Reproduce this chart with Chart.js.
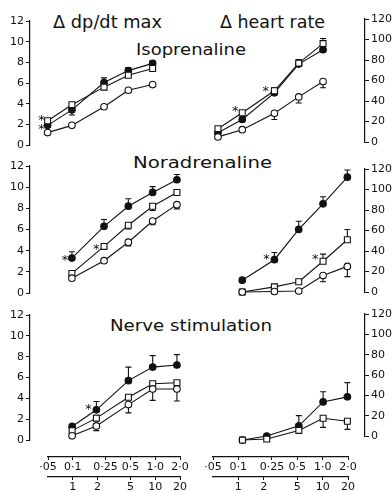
<!DOCTYPE html>
<html>
<head>
<meta charset="utf-8">
<script src="https://cdn.jsdelivr.net/npm/chart.js@4.4.0/dist/chart.umd.min.js"></script>
<style>
  body { margin: 0; background: #fff; }
  #fig { position: relative; width: 392px; height: 492px; overflow: hidden; font-family: "DejaVu Sans", sans-serif; color: #111; }
  canvas { position: absolute; }
  .ttl { position: absolute; white-space: nowrap; line-height: 1; transform-origin: 0 0; }
</style>
</head>
<body>
<div id="fig">
  <div class="ttl" data-w="109" style="left:53px;top:13px;font-size:18px">Δ dp/dt max</div>
  <div class="ttl" data-w="105" style="left:220px;top:13px;font-size:18px">Δ heart rate</div>
  <div class="ttl" data-w="110" style="left:136px;top:42px;font-size:16px">Isoprenaline</div>
  <div class="ttl" data-w="139" style="left:133px;top:155px;font-size:16px">Noradrenaline</div>
  <div class="ttl" data-w="162" style="left:110px;top:318px;font-size:16px">Nerve stimulation</div>

  <canvas id="isoL" style="left:0;top:11px" width="192" height="144"></canvas>
  <canvas id="isoR" style="left:195px;top:9px" width="197" height="143"></canvas>
  <canvas id="norL" style="left:0;top:156px" width="192" height="147"></canvas>
  <canvas id="norR" style="left:195px;top:159px" width="197" height="143"></canvas>
  <canvas id="nerL" style="left:0;top:305px" width="192" height="145"></canvas>
  <canvas id="nerR" style="left:195px;top:304px" width="197" height="142"></canvas>
  <canvas id="axL" style="left:30px;top:450px" width="170" height="45"></canvas>
  <canvas id="axR" style="left:195px;top:450px" width="175" height="45"></canvas>
</div>
<script>
// doses (ug) and stimulation frequencies (Hz)
const doseIso = [0.05, 0.1, 0.25, 0.5, 1.0];
const doseNor = [0.1, 0.25, 0.5, 1.0, 2.0];
const freqHz = [1, 2, 5, 10, 20];

const doseTicks = [0.05, 0.1, 0.25, 0.5, 1, 2];
const doseTickLabels = ['·05', '0·1', '0·25', '0·5', '1·0', '2·0'];
const freqTicks = [1, 2, 5, 10, 20];
const freqTickLabels = ['1', '2', '5', '10', '20'];

// isoprenaline - dp/dt max
const isoDpOpen = [1.2, 1.9, 3.7, 5.3, 5.85];
const isoDpOpenErr = [0, 0, 0, 0, 0];
const isoDpSquare = [2.35, 3.9, 5.6, 6.75, 7.4];
const isoDpSquareErr = [0, 0, 0, 0, 0];
const isoDpFilled = [1.9, 3.4, 6.05, 7.2, 7.9];
const isoDpFilledErr = [0, -0.5, 0.45, 0.3, 0.25];
const isoDpStars = [[0.042, 2.7], [0.042, 1.85]];

// isoprenaline - heart rate
const isoHrOpen = [5, 12, 28, 44, 59];
const isoHrOpenErr = [0, 0, -6, -6, -6];
const isoHrSquare = [13, 28.5, 50, 77, 96];
const isoHrSquareErr = [0, 0, 3, 0, 5];
const isoHrFilled = [9, 22, 48, 76, 90];
const isoHrFilledErr = [0, 0, 0, 4.5, 0];
const isoHrStars = [[0.082, 33], [0.195, 53]];

// noradrenaline - dp/dt max
const norDpOpen = [1.4, 3.05, 4.8, 6.8, 8.35];
const norDpOpenErr = [0, 0, -0.35, -0.35, -0.4];
const norDpSquare = [1.85, 4.4, 6.4, 8.2, 9.5];
const norDpSquareErr = [0, 0, -0.35, -0.4, 0];
const norDpFilled = [3.3, 6.3, 8.2, 9.5, 10.7];
const norDpFilledErr = [0.6, 0.65, 0.7, 0.55, 0.5];
const norDpStars = [[0.082, 3.4], [0.2, 4.4]];

// noradrenaline - heart rate
const norHrOpen = [0, 0.5, 1, 16, 25];
const norHrOpenErr = [0, 0, 0, -6, -10];
const norHrSquare = [0, 5, 10, 30, 51];
const norHrSquareErr = [0, 0, 0, 7, 10];
const norHrFilled = [11.5, 31.5, 61, 86, 112];
const norHrFilledErr = [0, 7, 8, 7, 7];
const norHrStars = [[0.2, 35], [0.8, 35]];

// nerve stimulation - dp/dt max
const nerDpOpen = [0.4, 1.35, 3.4, 4.9, 4.9];
const nerDpOpenErr = [0, -0.45, -0.8, -1.1, -1.15];
const nerDpSquare = [0.9, 2.1, 4.1, 5.4, 5.5];
const nerDpSquareErr = [0, 0, 0, 0, 0];
const nerDpFilled = [1.3, 2.9, 5.7, 7.0, 7.2];
const nerDpFilledErr = [0, 0.8, 1.3, 1.1, 1.0];
const nerDpStars = [[1.6, 3.3]];

// nerve stimulation - heart rate (no open circle series)
const nerHrSquare = [-4, -3, 5.5, 17.5, 14.5];
const nerHrSquareErr = [0, 0, 0, -9, -8];
const nerHrFilled = [-4, 0, 10, 33.5, 38.5];
const nerHrFilledErr = [0, 0, 10, 10, 14];
const nerHrStars = [];

const INK = '#111';
const FONT = 'DejaVu Sans';

function series(xs, ys, err, style) {
  return {
    data: xs.map((x, i) => ({ x: x, y: ys[i] })),
    err: err,
    showLine: true,
    fill: false,
    tension: 0,
    clip: false,
    borderColor: INK,
    borderWidth: 1.1,
    pointStyle: style === 'square' ? 'rect' : 'circle',
    pointRadius: style === 'square' ? 4.2 : 3.3,
    pointBackgroundColor: style === 'filled' ? INK : '#fff',
    pointBorderColor: INK,
    pointBorderWidth: 1.1
  };
}

// error bars (one sided, sign gives direction) and significance asterisks
const marks = {
  id: 'marks',
  beforeDatasetsDraw(chart) {
    const ctx = chart.ctx, xs = chart.scales.x, ys = chart.scales.y;
    ctx.save();
    ctx.strokeStyle = INK;
    ctx.lineWidth = 1.1;
    chart.data.datasets.forEach(ds => {
      ds.data.forEach((p, i) => {
        const e = ds.err[i];
        if (!e) return;
        const px = xs.getPixelForValue(p.x);
        const y0 = ys.getPixelForValue(p.y), y1 = ys.getPixelForValue(p.y + e);
        ctx.beginPath();
        ctx.moveTo(px, y0); ctx.lineTo(px, y1);
        ctx.moveTo(px - 3, y1); ctx.lineTo(px + 3, y1);
        ctx.stroke();
      });
    });
    ctx.restore();
  },
  afterDraw(chart, args, opts) {
    const ctx = chart.ctx, xs = chart.scales.x, ys = chart.scales.y;
    ctx.save();
    ctx.fillStyle = INK;
    ctx.font = '13px "' + FONT + '"';
    ctx.textAlign = 'center';
    ctx.textBaseline = 'alphabetic';
    (opts.stars || []).forEach(s => {
      ctx.fillText('*', xs.getPixelForValue(s[0]), ys.getPixelForValue(s[1]) + 7);
    });
    ctx.restore();
  }
};

function yAxis(side, max, step) {
  return {
    position: side,
    min: 0,
    max: max,
    ticks: { stepSize: step, color: INK, padding: 2, font: { family: FONT, size: 11 } },
    grid: { drawOnChartArea: false, drawTicks: true, tickLength: 4, color: INK },
    border: { display: true, color: INK, width: 1.2 },
    afterFit(s) { s.width = side === 'left' ? 30 : 27; }
  };
}

function panel(id, xMin, xMax, side, yMax, yStep, sets, stars) {
  new Chart(document.getElementById(id), {
    type: 'scatter',
    data: { datasets: sets },
    options: {
      responsive: false,
      animation: false,
      devicePixelRatio: 1,
      layout: { padding: { top: 10, bottom: 10, left: 0, right: side === 'left' ? 2 : 0 } },
      plugins: { legend: { display: false }, tooltip: { enabled: false }, marks: { stars: stars } },
      scales: {
        x: { type: 'logarithmic', min: xMin, max: xMax, display: false },
        y: yAxis(side, yMax, yStep)
      }
    },
    plugins: [marks]
  });
}

function xAxis(min, max, ticks, labels, weight, height) {
  return {
    type: 'logarithmic',
    position: 'bottom',
    weight: weight,
    min: min,
    max: max,
    afterBuildTicks(s) { s.ticks = ticks.map(v => ({ value: v })); },
    ticks: {
      autoSkip: false, maxRotation: 0, color: INK, padding: 1,
      font: { family: FONT, size: 11 },
      callback: (v, i) => labels[i]
    },
    grid: { drawOnChartArea: false, drawTicks: true, tickLength: 3, color: INK },
    border: { display: true, color: INK, width: 1.2 },
    afterFit(s) { s.height = height; }
  };
}

function axisChart(id, padL, padR) {
  new Chart(document.getElementById(id), {
    type: 'scatter',
    data: { datasets: [] },
    options: {
      responsive: false,
      animation: false,
      devicePixelRatio: 1,
      layout: { padding: { left: padL, right: padR, top: 0, bottom: 0 } },
      plugins: { legend: { display: false }, tooltip: { enabled: false } },
      scales: {
        y: { display: false },
        x: xAxis(0.05, 2, doseTicks, doseTickLabels, 0, 20),
        x2: xAxis(0.5, 20, freqTicks, freqTickLabels, 1, 18)
      }
    }
  });
}

// x ranges put 0.05 ug (0.5 Hz) and 2 ug (20 Hz) under the bottom axis ends
const L0 = 0.03025, L1 = 2.644, R0 = 0.03025, R1 = 3.306;

panel('isoL', L0, L1, 'left', 12, 2, [
  series(doseIso, isoDpOpen, isoDpOpenErr, 'open'),
  series(doseIso, isoDpSquare, isoDpSquareErr, 'square'),
  series(doseIso, isoDpFilled, isoDpFilledErr, 'filled')
], isoDpStars);

panel('isoR', R0, R1, 'right', 120, 20, [
  series(doseIso, isoHrOpen, isoHrOpenErr, 'open'),
  series(doseIso, isoHrSquare, isoHrSquareErr, 'square'),
  series(doseIso, isoHrFilled, isoHrFilledErr, 'filled')
], isoHrStars);

panel('norL', L0, L1, 'left', 12, 2, [
  series(doseNor, norDpOpen, norDpOpenErr, 'open'),
  series(doseNor, norDpSquare, norDpSquareErr, 'square'),
  series(doseNor, norDpFilled, norDpFilledErr, 'filled')
], norDpStars);

panel('norR', R0, R1, 'right', 120, 20, [
  series(doseNor, norHrOpen, norHrOpenErr, 'open'),
  series(doseNor, norHrSquare, norHrSquareErr, 'square'),
  series(doseNor, norHrFilled, norHrFilledErr, 'filled')
], norHrStars);

panel('nerL', L0 * 10, L1 * 10, 'left', 12, 2, [
  series(freqHz, nerDpOpen, nerDpOpenErr, 'open'),
  series(freqHz, nerDpSquare, nerDpSquareErr, 'square'),
  series(freqHz, nerDpFilled, nerDpFilledErr, 'filled')
], nerDpStars);

panel('nerR', R0 * 10, R1 * 10, 'right', 120, 20, [
  series(freqHz, nerHrSquare, nerHrSquareErr, 'square'),
  series(freqHz, nerHrFilled, nerHrFilledErr, 'filled')
], nerHrStars);

axisChart('axL', 18, 20);
axisChart('axR', 18, 22);

// stretch titles to the widths seen in the figure
document.querySelectorAll('.ttl').forEach(el => {
  const w = el.getBoundingClientRect().width;
  el.style.transform = 'scaleX(' + (+el.dataset.w / w) + ')';
});
</script>
</body>
</html>
